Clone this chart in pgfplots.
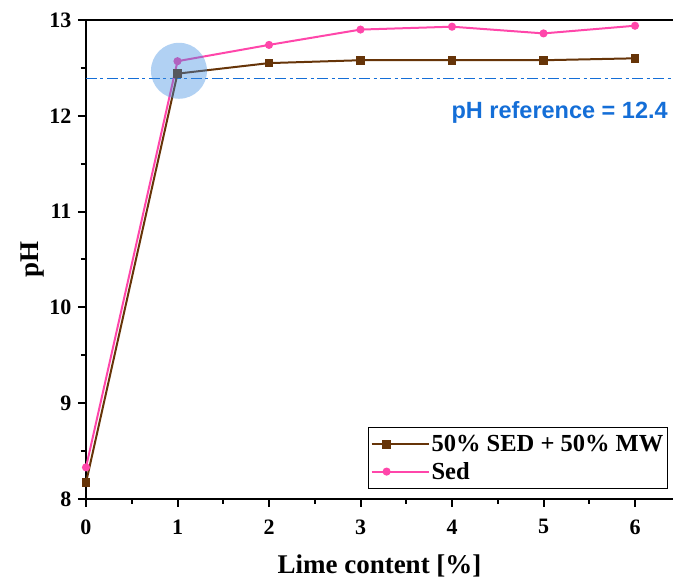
\documentclass[border=0pt]{standalone}
\usepackage{fontspec}
\setmainfont{Liberation Serif}
\newfontfamily\helv{Liberation Sans}
\usepackage{pgfplots}
\pgfplotsset{compat=1.18}
\definecolor{brn}{RGB}{102,52,8}
\definecolor{pnk}{RGB}{255,70,170}
\definecolor{refblue}{RGB}{20,110,215}
\definecolor{circ}{RGB}{61,140,224}
\begin{document}
\begin{tikzpicture}
\useasboundingbox (0,0) rectangle (673pt,580pt);
\begin{axis}[
  at={(86pt,81pt)}, anchor=south west,
  scale only axis, width=587pt, height=479pt,
  xmin=0, xmax=6.415, ymin=8, ymax=13,
  axis lines=left, axis line style={-, line width=2pt},
  xtick={0,1,2,3,4,5,6}, ytick={8,9,10,11,12,13},
  minor xtick={0.5,1.5,2.5,3.5,4.5,5.5},
  minor ytick={8.5,9.5,10.5,11.5,12.5},
  tick align=outside,
  major tick length=8pt, minor tick length=5pt,
  every tick/.style={line width=2pt, black},
  /pgf/number format/assume math mode=true,
  tick label style={font=\fontsize{22}{24}\selectfont\bfseries},
  xticklabel style={yshift=-9pt},
  yticklabel style={xshift=-3pt},
  xlabel={Lime content [\%]}, ylabel={pH},
  label style={font=\fontsize{27}{30}\selectfont\bfseries},
  xlabel style={yshift=-14pt},
  ylabel style={yshift=-2pt},
  clip=false,
  legend style={at={(axis cs:3.082,8.752)}, anchor=north west,
    draw=black, line width=1.2pt, font=\fontsize{24.5}{27}\selectfont\bfseries,
    inner xsep=2pt, inner ysep=6pt, row sep=5pt},
  legend cell align=left,
  legend image code/.code={
    \draw[#1] (0pt,0pt) -- (30pt,0pt);
    \draw[#1, mark repeat=1] plot coordinates {(15pt,0pt)};
    \draw[#1] (15pt,0pt) -- (57pt,0pt);
  },
]
\draw[line width=2pt] (rel axis cs:0,1) -- (rel axis cs:1,1);
\addplot[refblue, solid, line width=1.7pt, dash pattern=on 11pt off 3.5pt on 3pt off 3.5pt, forget plot]
  coordinates {(0,12.39) (6.415,12.39)};
\addplot[brn, line width=2pt, mark=square*, mark size=3.3pt, mark options={solid, fill=brn}]
  coordinates {(0,8.17) (1,12.44) (2,12.55) (3,12.58) (4,12.58) (5,12.58) (6,12.60)};
\addlegendentry{50\% SED + 50\% MW}
\addplot[pnk, line width=2pt, mark=*, mark size=3pt, mark options={solid, fill=pnk}]
  coordinates {(0,8.33) (1,12.57) (2,12.74) (3,12.90) (4,12.93) (5,12.86) (6,12.94)};
\addlegendentry{Sed}
\addplot[only marks, mark=*, mark size=28pt, draw=none, fill=circ, fill opacity=0.4, draw opacity=0, forget plot]
  coordinates {(1.016,12.47)};
\node[anchor=east, text=refblue, font=\helv\fontsize{23.5}{25}\selectfont\bfseries, inner sep=0pt]
  at (axis cs:6.36,12.03) {pH reference = 12.4};
\end{axis}
\end{tikzpicture}
\end{document}
